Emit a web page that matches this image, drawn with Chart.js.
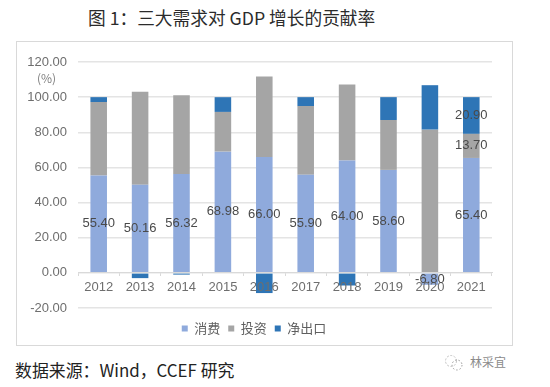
<!DOCTYPE html>
<html>
<head>
<meta charset="utf-8">
<script src="https://cdn.jsdelivr.net/npm/chart.js@4/dist/chart.umd.min.js"></script>
<style>
    html, body { margin: 0; padding: 0; background: #fff; }
    body { width: 550px; height: 387px; position: relative; overflow: hidden; font-family: "Noto Sans CJK SC", sans-serif; }
    .title { position: absolute; left: 88px; top: 4px; font-size: 17.7px; line-height: 26px; color: #2b2b2b; white-space: nowrap; }
    .frame { position: absolute; left: 16px; top: 41px; width: 495px; height: 303px; border: 1px solid #d9d9d9; }
    .frame canvas { position: absolute; left: -1px; top: -1px; }
    .unit { position: absolute; left: 37px; top: 69px; font-size: 12px; line-height: 18px; color: #7f7f7f; }
    .source { position: absolute; left: 15px; top: 357px; font-size: 16.9px; line-height: 26px; color: #222; white-space: nowrap; }
    .mark { position: absolute; left: 470px; top: 354px; font-size: 12px; line-height: 16px; color: #8a8a8a; }
    .icon { position: absolute; left: 444px; top: 354px; }
</style>
</head>
<body>
<div class="title">图 1：三大需求对 GDP 增长的贡献率</div>
<div class="frame"><canvas id="demandChart" width="497" height="305"></canvas></div>
<div class="unit">(%)</div>
<div class="source">数据来源：Wind，CCEF 研究</div>
<svg class="icon" width="20" height="18">
    <circle cx="7" cy="7" r="5.5" fill="none" stroke="#c4c4c4" stroke-dasharray="2 1.5"/>
    <circle cx="13" cy="11" r="5" fill="none" stroke="#9a9a9a" stroke-dasharray="1.5 2"/>
</svg>
<div class="mark">林采宜</div>
<script>
const categories = ['2012', '2013', '2014', '2015', '2016', '2017', '2018', '2019', '2020', '2021'];
const consumption = [55.40, 50.16, 56.32, 68.98, 66.00, 55.90, 64.00, 58.60, -6.80, 65.40];
const investment = [41.8, 52.9, 44.7, 22.6, 45.7, 39.0, 43.2, 28.4, 81.5, 13.70];
const netExports = [2.8, -3.0, -1.0, 8.4, -11.5, 5.1, -7.2, 13.0, 25.3, 20.90];
const yTicks = [-20, 0, 20, 40, 60, 80, 100, 120];

const textFont = '"Liberation Sans", "Noto Sans CJK SC", sans-serif';

// Labels sit in the middle of each bar, only 2021 shows all three series
const barLabels = {
    id: 'barLabels',
    afterLayout(chart) {
        chart.legend.top += 6; // legend sits a bit lower than the default box
    },
    afterDraw(chart) {
        const c = chart.ctx;
        c.save();
        c.font = '13px ' + textFont;
        c.fillStyle = '#4a4a4a';
        c.textAlign = 'center';
        c.textBaseline = 'middle';
        chart.data.datasets.forEach((ds, i) => {
            chart.getDatasetMeta(i).data.forEach((bar, j) => {
                if (i > 0 && j !== categories.length - 1) return;
                c.fillText(ds.data[j].toFixed(2), bar.x, (bar.y + bar.base) / 2);
            });
        });
        c.restore();
    }
};

new Chart(document.getElementById('demandChart'), {
    type: 'bar',
    data: {
        labels: categories,
        datasets: [
            { label: '消费', data: consumption, backgroundColor: '#8faadc' },
            { label: '投资', data: investment, backgroundColor: '#a5a5a5' },
            { label: '净出口', data: netExports, backgroundColor: '#2e75b6' }
        ]
    },
    options: {
        responsive: false,
        animation: false,
        barPercentage: 0.4,
        categoryPercentage: 1,
        layout: { padding: { left: 0, right: 21, top: 21, bottom: 7 } },
        plugins: {
            tooltip: { enabled: false },
            legend: {
                position: 'bottom',
                labels: {
                    boxWidth: 6,
                    boxHeight: 6,
                    padding: 8,
                    color: '#5f5f5f',
                    font: { size: 13, family: '"Noto Sans CJK SC", sans-serif' }
                }
            }
        },
        scales: {
            x: {
                stacked: true,
                position: { y: 0 },
                grid: { drawOnChartArea: false, drawTicks: true, tickLength: 3, color: '#d9d9d9' },
                border: { color: '#d9d9d9' },
                ticks: { z: 1, color: '#6e6e6e', padding: 4, maxRotation: 0, font: { size: 13, family: textFont } }
            },
            y: {
                stacked: true,
                min: -20,
                max: 120,
                afterBuildTicks(axis) { axis.ticks = yTicks.map(v => ({ value: v })); },
                afterFit(axis) { axis.width = 62; },
                grid: { color: '#e4e4e4', lineWidth: 1.5, drawTicks: false },
                border: { display: false },
                ticks: { color: '#6e6e6e', padding: 11, font: { size: 13, family: textFont }, callback: v => v.toFixed(2) }
            }
        }
    },
    plugins: [barLabels]
});
</script>
</body>
</html>
